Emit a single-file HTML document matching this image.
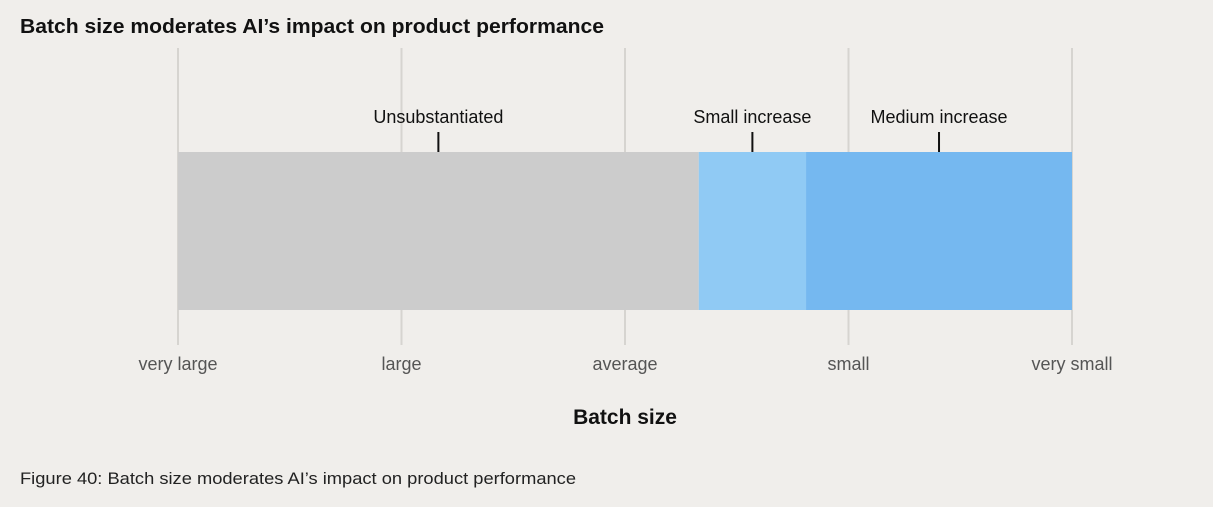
<!DOCTYPE html>
<html><head><meta charset="utf-8">
<style>
html,body{margin:0;padding:0;background:#f0eeeb;}
body{width:1213px;height:502px;overflow:hidden;font-family:"Liberation Sans",sans-serif;}
</style></head>
<body>
<svg id="chart" width="1213" height="502">
  <text x="20" y="33" font-size="20" font-weight="bold" fill="#111" textLength="584" lengthAdjust="spacingAndGlyphs">Batch size moderates AI’s impact on product performance</text>
  <g id="grid"></g>
  <g id="bars"></g>
  <g id="labels"></g>
  <g id="ticks"></g>
  <text x="625" y="424" font-size="21" font-weight="bold" fill="#111" text-anchor="middle">Batch size</text>
  <text x="20" y="484" font-size="17" fill="#222" textLength="556" lengthAdjust="spacingAndGlyphs">Figure 40: Batch size moderates AI’s impact on product performance</text>
</svg>
<script>
const tickLabels = ["very large","large","average","small","very small"];
const segStarts = [0, 2.33, 2.81];
const segEnds = [2.33, 2.81, 4];
const segLabels = ["Unsubstantiated","Small increase","Medium increase"];
const segColors = ["#cccccc","#90caf4","#75b8f0"];
const NS="http://www.w3.org/2000/svg";
const x0=178, x1=1072, dmin=0, dmax=4;
function xs(v){return x0+(v-dmin)/(dmax-dmin)*(x1-x0);}
function mk(tag,attrs,parent){const e=document.createElementNS(NS,tag);for(const k in attrs)e.setAttribute(k,attrs[k]);document.getElementById(parent).appendChild(e);return e;}
tickLabels.forEach((t,i)=>{
  const l=mk("line",{x1:xs(i),x2:xs(i),y1:48,y2:345,stroke:"#d6d4d0","stroke-width":2},"grid");
  
  
  const tx=mk("text",{x:xs(i),y:370,"font-size":18,fill:"#555","text-anchor":"middle"},"ticks");
  tx.textContent=t;
  
  
});
segStarts.forEach((s,i)=>{
  const e=segEnds[i];
  const r=mk("rect",{x:xs(s),y:152,width:xs(e)-xs(s),height:158,fill:segColors[i]},"bars");
  
  
  const m=(xs(s)+xs(e))/2;
  const tk=mk("line",{x1:m,x2:m,y1:132,y2:152,stroke:"#111","stroke-width":2},"labels");
  
  
  const t=mk("text",{x:m,y:123,"font-size":18,fill:"#111","text-anchor":"middle"},"labels");
  t.textContent=segLabels[i];
  
  
});
</script>
</body></html>
